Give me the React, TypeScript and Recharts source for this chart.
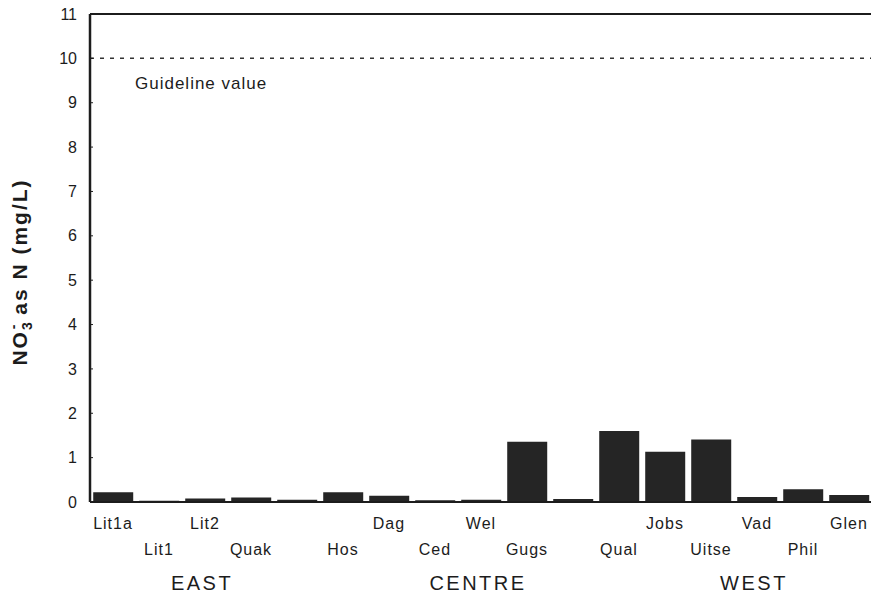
import React from 'react';
import { BarChart, Bar, XAxis, YAxis, ReferenceLine } from 'recharts';

const categories = ['Lit1a', 'Lit1', 'Lit2', 'Quak', '', 'Hos', 'Dag', 'Ced', 'Wel', 'Gugs', '', 'Qual', 'Jobs', 'Uitse', 'Vad', 'Phil', 'Glen'];
const nitrate = [0.22, 0.03, 0.08, 0.1, 0.05, 0.22, 0.14, 0.04, 0.05, 1.36, 0.07, 1.6, 1.13, 1.41, 0.11, 0.29, 0.16];
const yTicks = [0, 1, 2, 3, 4, 5, 6, 7, 8, 9, 10, 11];
const guidelineValue = 10;
const guidelineLabel = 'Guideline value';
const groupLabels = ['EAST', 'CENTRE', 'WEST'];
const groupAnchors = ['Lit2', 'Wel', 'Vad'];

const data = categories.map((name, i) => ({ key: i, name, value: nitrate[i] }));

const FONT = '"Liberation Sans", Arial, sans-serif';
const INK = '#1c1c1c';

function SiteTick(props: any) {
  const { x, y, payload } = props;
  const i = Number(payload.value);
  const name = categories[i];
  const lower = i % 2 === 1;
  const gi = groupAnchors.indexOf(name);
  return (
    <g>
      <text x={x} y={y + (lower ? 53 : 27)} textAnchor="middle" fontFamily={FONT} fontSize={16} letterSpacing={1} fill={INK}>
        {name}
      </text>
      {gi >= 0 && (
        <text x={x - 3} y={y + 88} textAnchor="middle" fontFamily={FONT} fontSize={20} letterSpacing={2.5} fill={INK}>
          {groupLabels[gi]}
        </text>
      )}
    </g>
  );
}

function YLabel(props: any) {
  const vb = props.viewBox || { x: 0, y: 14, width: 90, height: 488 };
  const cx = vb.x + 27;
  const cy = vb.y + vb.height / 2 + 14;
  return (
    <text
      x={cx}
      y={cy}
      transform={`rotate(-90, ${cx}, ${cy})`}
      textAnchor="middle"
      fontFamily={FONT}
      fontWeight="bold"
      fontSize={21}
      letterSpacing={2}
      fill={INK}
    >
      <tspan>NO</tspan>
      <tspan dy={5} fontSize={14}>3</tspan>
      <tspan dy={-14} dx={-9} fontSize={14}>-</tspan>
      <tspan dy={9}> as N (mg/L)</tspan>
    </text>
  );
}

function GuideLabel(props: any) {
  const vb = props.viewBox || { x: 90, y: 58 };
  return (
    <text x={vb.x + 45} y={vb.y + 31} fontFamily={FONT} fontSize={17} letterSpacing={1} fill={INK}>
      {guidelineLabel}
    </text>
  );
}

export default function App() {
  return (
    <div style={{ position: 'absolute', left: 0, top: 0, width: 871, height: 597, overflow: 'hidden', background: '#fff' }}>
      <BarChart
        width={873}
        height={597}
        data={data}
        margin={{ top: 14, right: 1, bottom: 0, left: 0 }}
        barCategoryGap="7%"
      >
        <XAxis
          dataKey="key"
          type="category"
          interval={0}
          height={95}
          tickLine={false}
          tickSize={0}
          tickMargin={0}
          axisLine={{ stroke: INK, strokeWidth: 2 }}
          tick={<SiteTick />}
        />
        <YAxis
          yAxisId="left"
          width={90}
          domain={[0, 11]}
          ticks={yTicks}
          interval={0}
          tickSize={-3}
          tickMargin={16}
          tickLine={{ stroke: INK }}
          axisLine={{ stroke: INK, strokeWidth: 2.5 }}
          tick={{ fontFamily: FONT, fontSize: 16, fill: INK }}
          label={<YLabel />}
        />
        <YAxis
          yAxisId="right"
          orientation="right"
          width={0}
          domain={[0, 11]}
          ticks={yTicks}
          interval={0}
          tickSize={-3}
          tick={false}
          tickLine={{ stroke: INK }}
          axisLine={{ stroke: INK, strokeWidth: 2 }}
        />
        <ReferenceLine yAxisId="left" y={11} stroke={INK} strokeWidth={2} />
        <ReferenceLine
          yAxisId="left"
          y={guidelineValue}
          stroke="#333"
          strokeWidth={1.5}
          strokeDasharray="4 6"
          label={<GuideLabel />}
        />
        <Bar yAxisId="left" dataKey="value" fill="#252525" isAnimationActive={false} />
      </BarChart>
    </div>
  );
}
